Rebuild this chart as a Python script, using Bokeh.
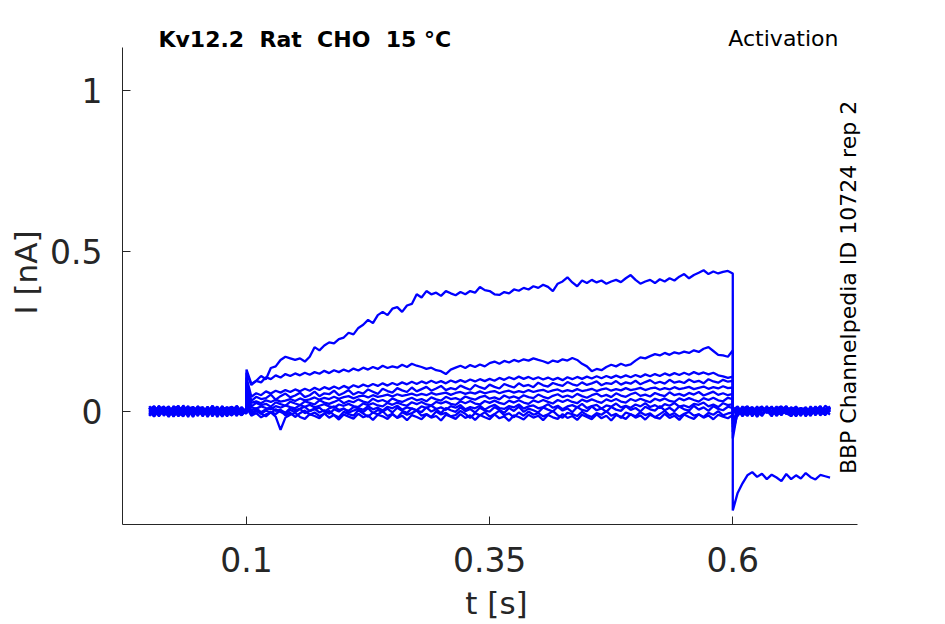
import numpy as np
from bokeh.plotting import figure
from bokeh.models import Range1d, FixedTicker, Label
from bokeh.embed import file_html
from bokeh.resources import INLINE

# sample times [s]: 5 ms grid; the step edges at 0.1 s and 0.6 s appear twice
t_pre = np.round(np.linspace(0.0, 0.1, 21), 3)
t_step = np.round(np.linspace(0.1, 0.6, 101), 3)
t_post = np.round(np.linspace(0.6, 0.7, 21), 3)
t = np.concatenate([t_pre, t_step, t_post])

# currents [nA], one sweep per list: before | during | after the step
trace_a = [0.01, -0.013, 0.016, -0.006, 0.012, -0.017, 0.005, 0.014, -0.01, 0.007, -0.015,
           0.011, -0.003, 0.017, -0.012, 0.004, -0.016, 0.01, -0.007, 0.013, -0.005,
           0.13, 0.085, 0.095, 0.11, 0.1, 0.135, 0.14, 0.16, 0.17, 0.165,
           0.16, 0.165, 0.155, 0.17, 0.2, 0.19, 0.205, 0.215, 0.212, 0.225,
           0.23, 0.245, 0.24, 0.26, 0.27, 0.285, 0.275, 0.3, 0.31, 0.3,
           0.32, 0.325, 0.31, 0.33, 0.335, 0.365, 0.355, 0.375, 0.365, 0.37,
           0.36, 0.375, 0.368, 0.362, 0.372, 0.365, 0.375, 0.37, 0.388, 0.378,
           0.375, 0.365, 0.363, 0.372, 0.368, 0.38, 0.376, 0.385, 0.38, 0.39,
           0.385, 0.395, 0.388, 0.375, 0.398, 0.405, 0.418, 0.402, 0.39, 0.408,
           0.4, 0.41, 0.402, 0.408, 0.398, 0.405, 0.41, 0.403, 0.415, 0.425,
           0.41, 0.398, 0.405, 0.41, 0.4, 0.412, 0.405, 0.415, 0.408, 0.42,
           0.428, 0.415, 0.425, 0.432, 0.44, 0.428, 0.436, 0.43, 0.435, 0.438, 0.43,
           -0.31, -0.255, -0.225, -0.2, -0.19, -0.205, -0.195, -0.212, -0.198, -0.207, -0.218,
           -0.196, -0.212, -0.2, -0.21, -0.193, -0.206, -0.213, -0.199, -0.203, -0.207]
trace_b = [-0.008, 0.015, -0.003, 0.011, -0.016, 0.006, -0.01, 0.018, -0.005, 0.008, 0.002,
           -0.013, 0.01, -0.007, 0.015, -0.017, 0.005, -0.004, 0.012, -0.01, 0.006,
           0.12, 0.082, 0.095, 0.09, 0.106, 0.1, 0.112, 0.105, 0.116, 0.11,
           0.118, 0.112, 0.12, 0.114, 0.122, 0.117, 0.126, 0.119, 0.128, 0.122,
           0.13, 0.124, 0.133, 0.127, 0.136, 0.13, 0.138, 0.132, 0.142, 0.135,
           0.14, 0.136, 0.145, 0.138, 0.148, 0.142, 0.138, 0.132, 0.136, 0.128,
           0.125, 0.116, 0.13, 0.136, 0.142, 0.135, 0.144, 0.138, 0.146, 0.14,
           0.15, 0.155, 0.148, 0.157, 0.152, 0.16, 0.155, 0.162, 0.158, 0.165,
           0.16, 0.156, 0.15, 0.158, 0.154, 0.162, 0.158, 0.166, 0.16, 0.148,
           0.14, 0.125, 0.132, 0.128, 0.138, 0.145, 0.14, 0.148, 0.142, 0.146,
           0.158, 0.168, 0.165, 0.172, 0.178, 0.174, 0.182, 0.176, 0.184, 0.18,
           0.186, 0.182, 0.19, 0.185, 0.195, 0.2, 0.188, 0.176, 0.174, 0.17, 0.19,
           0.006, -0.01, 0.015, -0.005, 0.011, -0.016, 0.008, -0.003, 0.013, -0.011, 0.005,
           0.016, -0.008, 0.003, -0.015, 0.01, -0.002, 0.013, -0.006, 0.017, 0.005]
trace_c = [0.005, -0.01, 0.017, -0.014, 0.003, 0.012, -0.006, -0.016, 0.008, 0.013, -0.005,
           0.007, -0.012, 0.016, -0.002, 0.01, -0.013, 0.005, 0.015, -0.008, 0.002,
           0.105, 0.045, 0.056, 0.05, 0.062, 0.055, 0.064, 0.058, 0.066, 0.06,
           0.068, 0.062, 0.07, 0.064, 0.073, 0.066, 0.075, 0.069, 0.077, 0.07,
           0.079, 0.072, 0.081, 0.075, 0.083, 0.077, 0.085, 0.079, 0.087, 0.08,
           0.088, 0.082, 0.09, 0.084, 0.092, 0.085, 0.093, 0.087, 0.095, 0.088,
           0.094, 0.087, 0.096, 0.09, 0.097, 0.091, 0.099, 0.093, 0.1, 0.094,
           0.101, 0.095, 0.104, 0.098, 0.106, 0.1, 0.108, 0.101, 0.107, 0.1,
           0.106, 0.099, 0.105, 0.098, 0.104, 0.097, 0.106, 0.1, 0.107, 0.101,
           0.108, 0.102, 0.109, 0.103, 0.11, 0.104, 0.111, 0.105, 0.112, 0.106,
           0.113, 0.107, 0.115, 0.109, 0.116, 0.11, 0.118, 0.112, 0.119, 0.113,
           0.12, 0.114, 0.122, 0.116, 0.121, 0.115, 0.12, 0.112, 0.109, 0.104, 0.108,
           -0.065, -0.006, 0.013, -0.015, 0.005, 0.01, -0.011, 0.002, -0.016, 0.011, -0.003,
           0.008, -0.013, 0.015, -0.005, 0.006, -0.01, 0.003, 0.016, -0.008, 0.01]
trace_d = [-0.015, 0.006, 0.01, -0.005, -0.013, 0.016, -0.003, 0.008, -0.018, 0.011, 0.005,
           -0.01, 0.014, -0.006, 0.003, -0.015, 0.013, -0.002, -0.01, 0.008, -0.004,
           0.09, 0.032, 0.045, 0.038, 0.041, 0.052, 0.036, 0.047, 0.055, 0.043,
           0.049, 0.058, 0.044, 0.05, 0.061, 0.047, 0.056, 0.053, 0.064, 0.05,
           0.057, 0.066, 0.052, 0.06, 0.055, 0.068, 0.061, 0.054, 0.07, 0.063,
           0.058, 0.072, 0.065, 0.06, 0.074, 0.062, 0.069, 0.076, 0.064, 0.071,
           0.079, 0.066, 0.072, 0.068, 0.08, 0.073, 0.067, 0.082, 0.075, 0.07,
           0.083, 0.076, 0.071, 0.085, 0.079, 0.074, 0.087, 0.078, 0.082, 0.075,
           0.089, 0.081, 0.077, 0.088, 0.083, 0.079, 0.091, 0.084, 0.08, 0.09,
           0.082, 0.087, 0.093, 0.081, 0.088, 0.085, 0.094, 0.083, 0.09, 0.086,
           0.095, 0.084, 0.091, 0.097, 0.087, 0.092, 0.086, 0.098, 0.089, 0.093,
           0.088, 0.099, 0.091, 0.095, 0.087, 0.1, 0.093, 0.089, 0.098, 0.092, 0.095,
           0.01, 0.003, -0.013, 0.008, -0.006, 0.015, -0.01, 0.005, 0.011, -0.015, 0.002,
           -0.008, 0.013, -0.003, 0.01, -0.016, 0.006, -0.005, 0.011, 0.0, -0.01]
trace_e = [0.016, -0.005, -0.012, 0.008, 0.003, -0.016, 0.013, -0.008, 0.006, -0.003, 0.015,
           -0.011, 0.002, 0.01, -0.018, 0.006, 0.012, -0.006, 0.003, -0.013, 0.009,
           0.075, 0.026, 0.031, 0.025, 0.034, 0.029, 0.036, 0.03, 0.033, 0.038,
           0.032, 0.04, 0.034, 0.037, 0.043, 0.036, 0.042, 0.038, 0.045, 0.039,
           0.044, 0.047, 0.04, 0.046, 0.049, 0.043, 0.05, 0.045, 0.048, 0.052,
           0.046, 0.053, 0.048, 0.051, 0.055, 0.049, 0.054, 0.05, 0.057, 0.052,
           0.055, 0.058, 0.051, 0.057, 0.06, 0.054, 0.059, 0.055, 0.062, 0.056,
           0.06, 0.063, 0.056, 0.061, 0.064, 0.058, 0.063, 0.059, 0.066, 0.06,
           0.064, 0.067, 0.06, 0.065, 0.068, 0.061, 0.066, 0.062, 0.069, 0.063,
           0.066, 0.07, 0.063, 0.068, 0.071, 0.064, 0.069, 0.065, 0.072, 0.066,
           0.069, 0.073, 0.066, 0.071, 0.074, 0.067, 0.072, 0.068, 0.075, 0.069,
           0.072, 0.076, 0.069, 0.073, 0.077, 0.07, 0.075, 0.071, 0.078, 0.072, 0.074,
           -0.04, 0.011, -0.005, -0.013, 0.01, 0.002, -0.008, 0.016, -0.01, 0.003, 0.013,
           -0.006, -0.015, 0.008, 0.005, -0.011, 0.015, -0.003, 0.006, -0.013, 0.011]
trace_f = [-0.004, 0.013, -0.016, 0.005, 0.015, -0.008, 0.002, -0.012, 0.01, -0.018, 0.008,
           0.003, -0.007, 0.013, -0.01, 0.016, -0.005, -0.013, 0.006, 0.001, -0.008,
           0.06, 0.015, 0.026, 0.019, 0.023, 0.014, 0.028, 0.022, 0.017, 0.03,
           0.024, 0.019, 0.031, 0.026, 0.021, 0.034, 0.027, 0.023, 0.029, 0.036,
           0.025, 0.032, 0.028, 0.037, 0.03, 0.026, 0.039, 0.031, 0.035, 0.028,
           0.04, 0.033, 0.029, 0.036, 0.042, 0.034, 0.038, 0.031, 0.043, 0.037,
           0.033, 0.045, 0.038, 0.041, 0.035, 0.046, 0.04, 0.036, 0.044, 0.048,
           0.039, 0.043, 0.037, 0.049, 0.042, 0.046, 0.04, 0.05, 0.044, 0.041,
           0.052, 0.045, 0.04, 0.048, 0.053, 0.044, 0.049, 0.043, 0.054, 0.047,
           0.042, 0.05, 0.055, 0.046, 0.051, 0.044, 0.056, 0.049, 0.045, 0.053,
           0.058, 0.048, 0.052, 0.046, 0.057, 0.051, 0.047, 0.059, 0.05, 0.054,
           0.048, 0.057, 0.052, 0.06, 0.049, 0.055, 0.061, 0.051, 0.056, 0.05, 0.054,
           0.005, -0.015, 0.008, 0.013, -0.003, -0.011, 0.006, -0.005, 0.015, -0.01, 0.003,
           0.011, -0.016, 0.005, -0.002, 0.013, -0.008, 0.01, -0.013, 0.003, 0.015]
trace_g = [0.011, -0.017, 0.003, 0.015, -0.006, 0.008, -0.014, 0.002, 0.016, -0.01, 0.005,
           -0.003, 0.013, -0.016, 0.006, 0.01, -0.008, 0.014, -0.005, -0.012, 0.003,
           0.048, 0.012, 0.008, 0.015, 0.01, 0.006, 0.016, 0.011, 0.018, 0.013,
           0.009, 0.019, 0.014, 0.02, 0.012, 0.017, 0.022, 0.015, 0.011, 0.021,
           0.017, 0.023, 0.016, 0.013, 0.024, 0.019, 0.025, 0.018, 0.015, 0.026,
           0.02, 0.027, 0.021, 0.017, 0.028, 0.022, 0.029, 0.021, 0.018, 0.029,
           0.024, 0.03, 0.023, 0.02, 0.031, 0.025, 0.032, 0.024, 0.021, 0.032,
           0.026, 0.033, 0.026, 0.022, 0.033, 0.027, 0.034, 0.027, 0.023, 0.034,
           0.028, 0.035, 0.029, 0.024, 0.035, 0.029, 0.036, 0.029, 0.025, 0.036,
           0.03, 0.037, 0.031, 0.026, 0.037, 0.031, 0.038, 0.03, 0.027, 0.038,
           0.032, 0.039, 0.033, 0.028, 0.039, 0.033, 0.04, 0.032, 0.029, 0.04,
           0.034, 0.041, 0.035, 0.03, 0.041, 0.035, 0.042, 0.034, 0.031, 0.042, 0.038,
           -0.085, 0.002, -0.01, 0.011, -0.016, 0.006, 0.015, -0.005, 0.003, -0.013, 0.01,
           -0.008, 0.005, 0.013, -0.011, 0.002, -0.006, 0.015, -0.003, -0.01, 0.006]
trace_h = [-0.012, 0.002, 0.014, -0.008, 0.01, -0.005, 0.017, -0.013, 0.003, -0.006, 0.011,
           -0.016, 0.008, 0.0, -0.01, 0.015, -0.003, 0.006, -0.015, 0.01, -0.002,
           0.038, 0.002, 0.009, -0.003, 0.006, 0.012, 0.001, 0.004, -0.005, 0.01,
           0.003, 0.008, 0.014, 0.0, 0.006, 0.011, -0.002, 0.009, 0.015, 0.004,
           0.007, 0.001, 0.013, 0.01, 0.004, 0.016, 0.006, 0.011, 0.002, 0.014,
           0.009, 0.017, 0.005, 0.012, 0.008, 0.003, 0.015, 0.01, 0.018, 0.007,
           0.012, 0.004, 0.016, 0.011, 0.019, 0.006, 0.013, 0.009, 0.017, 0.005,
           0.014, 0.02, 0.01, 0.007, 0.016, 0.012, 0.021, 0.008, 0.015, 0.018,
           0.009, 0.013, 0.022, 0.011, 0.017, 0.006, 0.015, 0.019, 0.012, 0.023,
           0.01, 0.016, 0.02, 0.008, 0.018, 0.014, 0.024, 0.012, 0.017, 0.011,
           0.021, 0.015, 0.025, 0.013, 0.019, 0.01, 0.022, 0.017, 0.026, 0.014,
           0.018, 0.012, 0.023, 0.02, 0.027, 0.015, 0.021, 0.013, 0.025, 0.019, 0.022,
           0.013, -0.005, 0.003, -0.011, 0.01, -0.018, 0.005, 0.011, -0.008, 0.006, -0.013,
           0.015, -0.003, -0.01, 0.008, 0.003, -0.015, 0.01, 0.002, -0.006, 0.013]
trace_i = [0.006, 0.016, -0.01, -0.002, 0.011, -0.015, 0.008, 0.003, -0.012, 0.014, -0.006,
           0.01, -0.018, 0.005, 0.013, -0.008, 0.002, -0.013, 0.016, -0.003, 0.008,
           0.028, -0.004, 0.003, -0.008, 0.002, -0.005, 0.006, -0.002, -0.009, 0.004,
           -0.003, 0.007, -0.006, 0.001, 0.008, -0.004, 0.003, -0.008, 0.006, -0.001,
           0.009, -0.005, 0.002, 0.007, -0.003, 0.01, -0.006, 0.004, -0.002, 0.008,
           -0.004, 0.011, 0.001, -0.005, 0.009, 0.002, -0.003, 0.012, -0.001, 0.006,
           -0.006, 0.01, 0.003, -0.002, 0.012, 0.0, 0.007, -0.004, 0.011, 0.002,
           -0.001, 0.013, 0.004, -0.005, 0.01, 0.001, 0.014, -0.002, 0.008, 0.003,
           -0.004, 0.012, 0.005, -0.001, 0.014, 0.002, 0.009, -0.003, 0.013, 0.004,
           0.0, 0.015, 0.003, 0.009, -0.002, 0.013, 0.005, 0.001, 0.016, 0.004,
           0.01, -0.001, 0.014, 0.006, 0.002, 0.016, 0.003, 0.011, 0.0, 0.015,
           0.006, 0.002, 0.017, 0.005, 0.012, 0.001, 0.016, 0.007, 0.003, 0.014, 0.01,
           -0.05, 0.008, -0.016, 0.005, 0.013, -0.006, -0.011, 0.01, -0.002, 0.015, -0.01,
           0.003, 0.011, -0.015, 0.006, -0.005, 0.01, -0.013, 0.005, 0.008, -0.003]
trace_j = [-0.005, -0.015, 0.008, 0.013, -0.01, 0.003, -0.016, 0.011, 0.006, -0.008, 0.016,
           -0.005, -0.011, 0.01, 0.002, -0.015, 0.008, 0.014, -0.01, 0.005, -0.006,
           0.018, -0.012, 0.001, -0.007, -0.016, -0.003, -0.009, 0.003, -0.013, -0.005,
           -0.018, -0.006, 0.002, -0.011, -0.004, -0.015, -0.008, 0.001, -0.012, -0.019,
           -0.002, -0.009, -0.014, 0.003, -0.007, -0.017, -0.004, -0.01, 0.0, -0.015,
           -0.008, -0.02, -0.003, -0.011, -0.006, 0.002, -0.014, -0.009, -0.018, -0.001,
           -0.01, -0.005, -0.016, -0.012, 0.001, -0.008, -0.021, -0.006, -0.013, -0.003,
           -0.017, -0.009, 0.002, -0.012, -0.007, -0.019, -0.004, -0.014, -0.001, -0.011,
           -0.006, -0.016, -0.01, 0.001, -0.013, -0.02, -0.005, -0.009, -0.015, -0.002,
           -0.012, -0.018, -0.006, -0.011, 0.0, -0.014, -0.008, -0.021, -0.004, -0.01,
           -0.016, -0.003, -0.012, -0.007, -0.019, -0.009, 0.001, -0.013, -0.006, -0.017,
           -0.008, -0.002, -0.014, -0.01, -0.018, -0.005, -0.011, 0.0, -0.013, -0.007, -0.004,
           0.003, 0.015, -0.008, -0.003, 0.006, -0.013, 0.011, 0.002, -0.01, 0.008, 0.015,
           -0.005, 0.003, -0.016, 0.01, 0.006, -0.011, 0.002, 0.013, -0.008, 0.005]
trace_k = [0.013, 0.003, -0.013, 0.006, -0.018, 0.01, 0.015, -0.006, 0.002, -0.016, 0.008,
           0.013, -0.008, -0.003, 0.011, -0.013, 0.006, -0.01, 0.017, -0.006, 0.003,
           0.012, -0.014, -0.006, -0.019, -0.01, -0.004, -0.017, -0.058, -0.02, -0.011,
           -0.005, -0.018, -0.024, -0.009, -0.015, -0.022, -0.007, -0.02, -0.012, -0.026,
           -0.01, -0.017, -0.023, -0.008, -0.019, -0.013, -0.027, -0.011, -0.016, -0.024,
           -0.009, -0.021, -0.014, -0.028, -0.012, -0.018, -0.025, -0.01, -0.02, -0.015,
           -0.029, -0.011, -0.017, -0.024, -0.009, -0.021, -0.013, -0.027, -0.012, -0.019,
           -0.025, -0.01, -0.022, -0.016, -0.03, -0.013, -0.018, -0.026, -0.011, -0.02,
           -0.014, -0.028, -0.012, -0.019, -0.024, -0.009, -0.021, -0.015, -0.027, -0.011,
           -0.018, -0.025, -0.01, -0.022, -0.014, -0.029, -0.012, -0.017, -0.024, -0.009,
           -0.02, -0.013, -0.026, -0.011, -0.019, -0.023, -0.008, -0.021, -0.014, -0.027,
           -0.01, -0.018, -0.024, -0.009, -0.02, -0.013, -0.025, -0.011, -0.017, -0.022, -0.012,
           -0.03, -0.011, 0.006, 0.016, -0.006, 0.003, -0.015, 0.008, 0.011, -0.003, -0.01,
           0.013, -0.006, 0.005, 0.01, -0.013, 0.003, -0.005, 0.015, -0.01, 0.002]
traces = [trace_k, trace_j, trace_i, trace_h, trace_g, trace_f,
          trace_e, trace_d, trace_c, trace_b, trace_a]
assert all(len(tr) == len(t) for tr in traces), [len(tr) for tr in traces]

x_ticks = [0.1, 0.35, 0.6]
x_tick_labels = ["0.1", "0.35", "0.6"]
y_ticks = [0, 0.5, 1]
y_tick_labels = ["0", "0.5", "1"]

# axis limits of the data axes; the frame reaches a little further so the
# header and the side note can sit in it
x_lim = (-0.0275, 0.7285)
y_lim = (-0.3536, 1.1355)

ink = "#262626"
font = "DejaVu Sans"

p = figure(width=930, height=623,
           x_range=Range1d(x_lim[0], 0.7416), y_range=Range1d(y_lim[0], 1.2196),
           output_backend="svg", toolbar_location=None,
           min_border_left=122, min_border_right=60,
           min_border_top=20, min_border_bottom=98,
           x_axis_label="t [s]", y_axis_label="I [nA]")
p.outline_line_color = None
p.grid.visible = False
p.background_fill_color = "white"
p.border_fill_color = "white"

for tr in traces:
    p.line(t, tr, line_color="#0000ff", line_width=2.3)

for ax, ticks, labels, lim in [(p.xaxis, x_ticks, x_tick_labels, x_lim),
                               (p.yaxis, y_ticks, y_tick_labels, y_lim)]:
    ax.bounds = lim
    ax.ticker = FixedTicker(ticks=ticks)
    ax.major_label_overrides = dict(zip(ticks, labels))
    ax.minor_tick_line_color = None
    ax.major_tick_in = 8
    ax.major_tick_out = 0
    ax.axis_line_color = ink
    ax.major_tick_line_color = ink
    ax.major_label_text_color = ink
    ax.axis_label_text_color = ink
    ax.major_label_text_font = font
    ax.axis_label_text_font = font
    ax.major_label_text_font_size = "33px"
    ax.axis_label_text_font_size = "31px"
    ax.axis_label_text_font_style = "normal"

p.xaxis.major_label_standoff = 22
p.xaxis.axis_label_standoff = 10
p.yaxis.major_label_standoff = 20
p.yaxis.axis_label_standoff = 3

# header: cell line on the left, protocol on the right; recording id on the side
p.add_layout(Label(x=0.0095, y=1.1604, text="Kv12.2\u00a0 Rat\u00a0 CHO\u00a0 15 °C",
                   text_font=font, text_font_size="22px", text_font_style="bold",
                   text_color="black", text_baseline="alphabetic"))
p.add_layout(Label(x=0.7087, y=1.1635, text="Activation", text_font=font,
                   text_font_size="22px", text_color="black", text_align="right",
                   text_baseline="alphabetic"))
p.add_layout(Label(x=0.719, y=0.3863, text="BBP Channelpedia ID 10724 rep 2",
                   text_font=font, text_font_size="22px", text_color="black",
                   angle=np.pi / 2, text_align="center", text_baseline="alphabetic"))

open("out.html", "w").write(file_html(p, INLINE))
